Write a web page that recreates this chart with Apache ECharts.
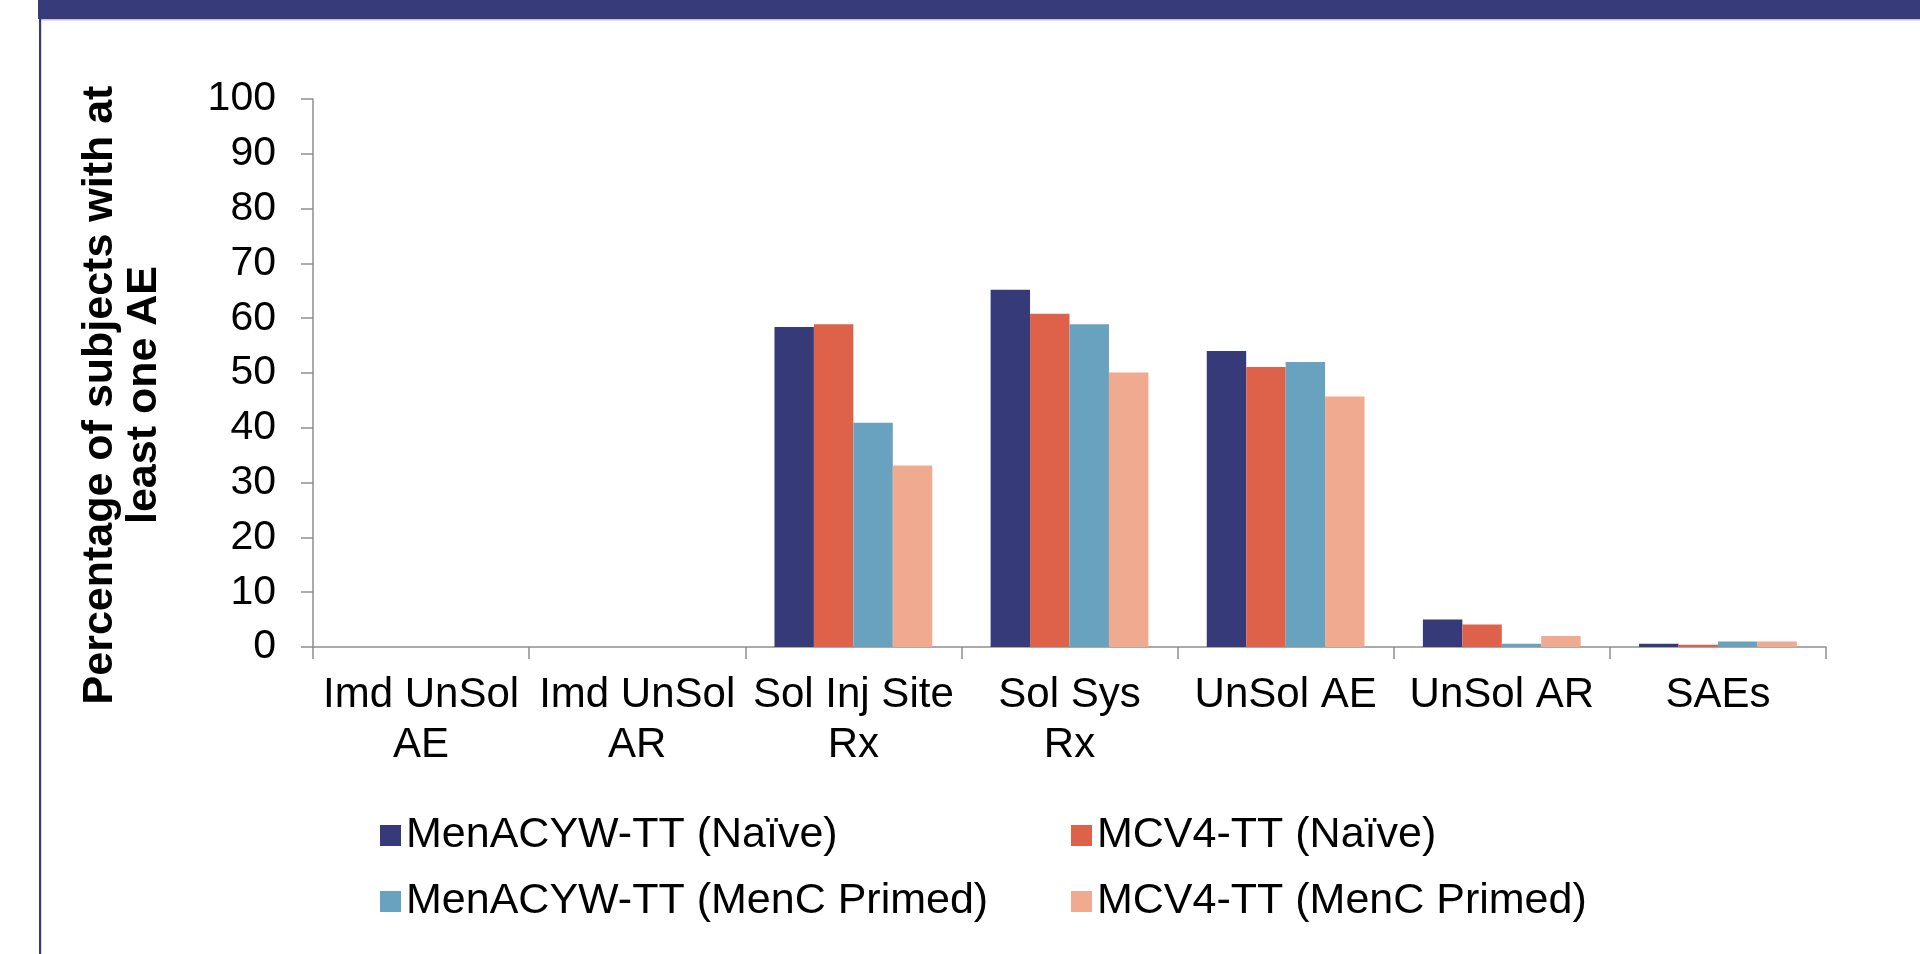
<!DOCTYPE html>
<html>
<head>
<meta charset="utf-8">
<title>Adverse events by vaccine group</title>
<script src="https://cdn.jsdelivr.net/npm/echarts@6/dist/echarts.min.js"></script>
<style>
  html, body { margin: 0; padding: 0; background: #ffffff; }
  #chart { width: 1920px; height: 954px; }
</style>
</head>
<body>
<div id="chart"></div>
<script>
// Event categories along the x axis (line breaks as printed)
const categories = [
  'Imd UnSol\nAE',
  'Imd UnSol\nAR',
  'Sol Inj Site\nRx',
  'Sol Sys\nRx',
  'UnSol AE',
  'UnSol AR',
  'SAEs'
];

// Percentage of subjects with at least one AE, per group
const menacywNaive  = [0, 0, 58.4, 65.2, 54.0, 5.0, 0.6];
const mcv4Naive     = [0, 0, 58.9, 60.8, 51.1, 4.1, 0.4];
const menacywPrimed = [0, 0, 40.9, 58.9, 52.0, 0.6, 1.0];
const mcv4Primed    = [0, 0, 33.1, 50.1, 45.7, 2.0, 1.0];

const seriesNames = [
  'MenACYW-TT (Naïve)',
  'MCV4-TT (Naïve)',
  'MenACYW-TT (MenC Primed)',
  'MCV4-TT (MenC Primed)'
];
const seriesValues = [menacywNaive, mcv4Naive, menacywPrimed, mcv4Primed];
const seriesColors = ['#373A78', '#DE614A', '#68A2BE', '#EFAA8F'];

// Value axis ticks
const yMin = 0, yMax = 100, yStep = 10;

const FONT = '"Liberation Sans", Arial, Helvetica, sans-serif';
const AXIS_GREY = '#8e8e8e';
const FRAME = '#383B79';

const chart = echarts.init(document.getElementById('chart'), null, { renderer: 'canvas' });

// One legend block per entry so the two columns line up
const legendPos = [
  { left: 380,  top: 814 },
  { left: 1071, top: 814 },
  { left: 380,  top: 880 },
  { left: 1071, top: 880 }
];

const option = {
  backgroundColor: '#ffffff',
  animation: false,
  textStyle: { fontFamily: FONT },
  grid: { left: 313, right: 94, top: 99, bottom: 307, containLabel: false },
  legend: seriesNames.map((name, i) => ({
    data: [name],
    left: legendPos[i].left,
    top: legendPos[i].top,
    padding: 0,
    itemWidth: 21,
    itemHeight: 21,
    icon: 'rect',
    selectedMode: false,
    textStyle: { fontFamily: FONT, fontSize: 43, color: '#000', lineHeight: 42 }
  })),
  xAxis: {
    type: 'category',
    data: categories,
    boundaryGap: true,
    axisLine: { show: true, lineStyle: { color: AXIS_GREY, width: 1.5 } },
    axisTick: { show: true, length: 12, inside: false, lineStyle: { color: AXIS_GREY, width: 1.5 } },
    axisLabel: {
      interval: 0,
      margin: 23,
      color: '#000',
      fontSize: 42,
      lineHeight: 50,
      fontFamily: FONT
    },
    splitLine: { show: false }
  },
  yAxis: {
    type: 'value',
    min: yMin,
    max: yMax,
    interval: yStep,
    axisLine: { show: true, lineStyle: { color: AXIS_GREY, width: 1.5 } },
    axisTick: { show: true, length: 12, lineStyle: { color: AXIS_GREY, width: 1.5 } },
    axisLabel: { margin: 37, color: '#000', fontSize: 41, fontFamily: FONT },
    splitLine: { show: false }
  },
  series: seriesNames.map((name, i) => ({
    name: name,
    type: 'bar',
    data: seriesValues[i],
    barGap: '0%',
    barCategoryGap: '27%',
    itemStyle: { color: seriesColors[i] }
  })),
  graphic: [
    // page frame: band along the top and rule down the left side
    { type: 'rect', silent: true, z: 100,
      shape: { x: 38, y: 0, width: 1882, height: 19 },
      style: { fill: FRAME } },
    { type: 'rect', silent: true, z: 100,
      shape: { x: 41, y: 19, width: 1879, height: 1.5 },
      style: { fill: '#c3c4dc' } },
    { type: 'rect', silent: true, z: 100,
      shape: { x: 39, y: 0, width: 2.2, height: 954 },
      style: { fill: FRAME } },
    // value axis title, read bottom to top
    { type: 'text', silent: true, z: 100,
      x: 122, y: 395, rotation: Math.PI / 2,
      style: {
        text: 'Percentage of subjects with at\nleast one AE',
        fill: '#000',
        font: 'bold 43px ' + FONT,
        lineHeight: 44,
        align: 'center',
        verticalAlign: 'middle'
      } }
  ]
};

chart.setOption(option);
</script>
</body>
</html>
